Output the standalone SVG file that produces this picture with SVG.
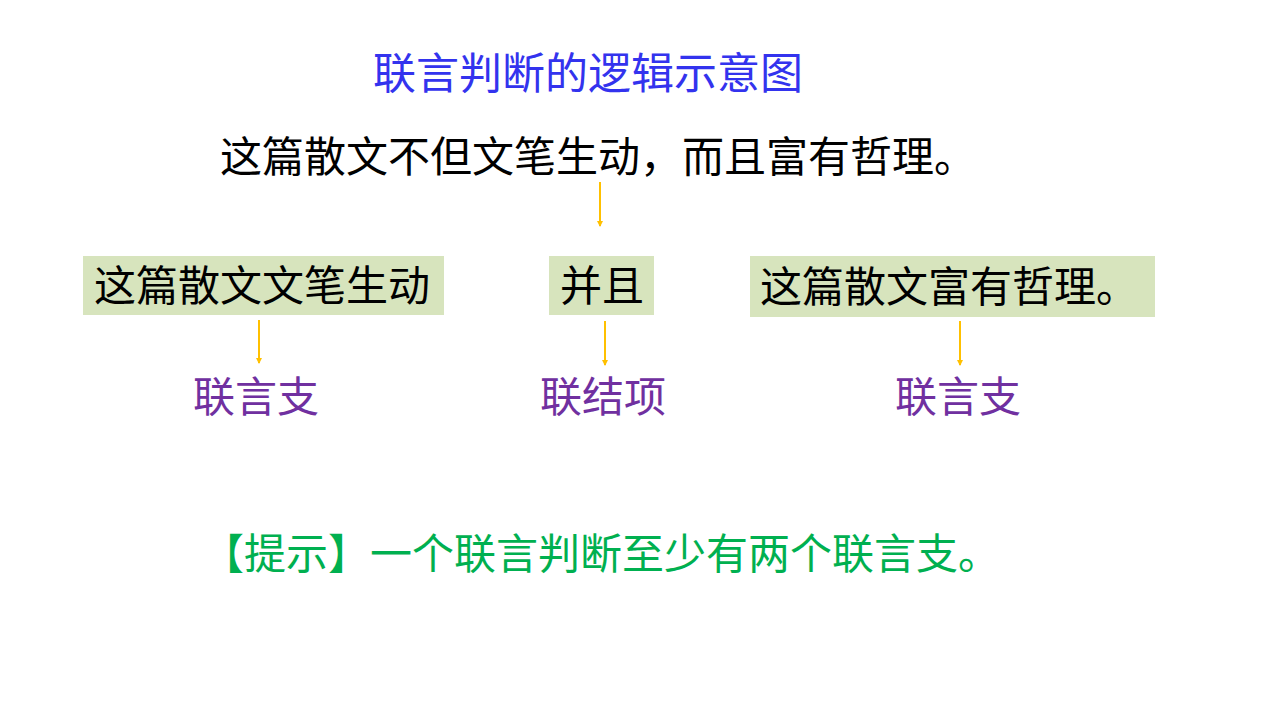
<svg xmlns="http://www.w3.org/2000/svg" width="1280" height="720" viewBox="0 0 1280 720">
<style>
text{font-family:"Noto Sans CJK SC","Noto Sans",sans-serif;font-size:42px}
.title{fill:#3333EE;font-size:43px}
.main{fill:#000000}
.box{fill:#D7E4BD}
.label{fill:#7030A0;text-anchor:middle}
.hint{fill:#00B050}
.arrow{stroke:#FFC000;stroke-width:2;fill:none;marker-end:url(#ah)}
</style>
<defs>
<marker id="ah" markerWidth="6" markerHeight="6" refX="5" refY="3" orient="auto" markerUnits="userSpaceOnUse" viewBox="0 0 6 6">
<path d="M0,0 L6,3 L0,6 Z" fill="#FFC000"/>
</marker>
</defs>
<rect width="1280" height="720" fill="#FFFFFF"/>
<g id="title"><text class="title" x="373" y="89">联言判断的逻辑示意图</text></g>
<g id="sentence"><text class="main" x="220" y="172">这篇散文不但文笔生动，而且富有哲理。</text></g>
<g id="conjunct1">
<rect class="box" x="83" y="256" width="361" height="59"/>
<text class="main" x="94" y="301">这篇散文文笔生动</text>
</g>
<g id="connective">
<rect class="box" x="549" y="256" width="105" height="59"/>
<text class="main" x="560" y="301">并且</text>
</g>
<g id="conjunct2">
<rect class="box" x="750" y="256" width="405" height="61"/>
<text class="main" x="760" y="302">这篇散文富有哲理。</text>
</g>
<g id="label1"><text class="label" x="256" y="412">联言支</text></g>
<g id="label2"><text class="label" x="603" y="412">联结项</text></g>
<g id="label3"><text class="label" x="958" y="412">联言支</text></g>
<g id="hint"><text class="hint" x="202" y="569">【提示】一个联言判断至少有两个联言支。</text></g>
<g id="connectors">
<line class="arrow" x1="600" y1="182" x2="600" y2="226"/>
<line class="arrow" x1="259" y1="320" x2="259" y2="363"/>
<line class="arrow" x1="605" y1="321" x2="605" y2="365"/>
<line class="arrow" x1="960" y1="321" x2="960" y2="365"/>
</g>
</svg>
